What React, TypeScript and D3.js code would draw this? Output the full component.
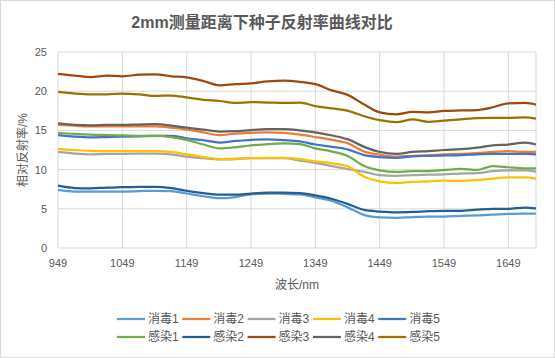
import React from 'react'
import * as d3 from 'd3'

// wavelength samples (nm)
const wavelengths = [949, 975, 1000, 1025, 1049, 1075, 1100, 1125, 1149, 1175, 1200, 1225, 1249, 1275, 1300, 1325, 1349, 1375, 1400, 1425, 1449, 1475, 1500, 1525, 1549, 1575, 1600, 1625, 1649, 1675, 1692]

const xTicks = [949, 1049, 1149, 1249, 1349, 1449, 1549, 1649]
const yTicks = [0, 5, 10, 15, 20, 25]

const disinfect1 = [7.4, 7.2, 7.2, 7.2, 7.2, 7.25, 7.3, 7.25, 6.95, 6.6, 6.35, 6.5, 6.85, 6.95, 6.9, 6.85, 6.45, 6.0, 5.15, 4.2, 3.9, 3.85, 3.95, 4.0, 4.0, 4.1, 4.15, 4.25, 4.35, 4.4, 4.4]
const disinfect2 = [15.7, 15.6, 15.5, 15.5, 15.5, 15.5, 15.5, 15.35, 15.1, 14.75, 14.4, 14.6, 14.7, 14.75, 14.7, 14.45, 14.15, 13.8, 13.35, 12.3, 11.9, 11.65, 11.75, 11.8, 11.95, 12.0, 12.1, 12.25, 12.35, 12.25, 12.25]
const disinfect3 = [12.25, 12.05, 11.95, 12.0, 12.0, 12.05, 12.05, 11.95, 11.65, 11.45, 11.3, 11.35, 11.45, 11.45, 11.45, 11.15, 10.85, 10.45, 10.05, 9.7, 9.3, 9.2, 9.3, 9.35, 9.4, 9.5, 9.55, 9.8, 9.9, 9.9, 9.75]
const disinfect4 = [12.65, 12.5, 12.4, 12.35, 12.35, 12.35, 12.35, 12.25, 11.95, 11.6, 11.35, 11.4, 11.45, 11.5, 11.5, 11.35, 11.05, 10.8, 10.4, 9.1, 8.5, 8.3, 8.45, 8.5, 8.6, 8.55, 8.65, 8.85, 9.0, 9.0, 8.85]
const disinfect5 = [14.4, 14.2, 14.1, 14.15, 14.2, 14.25, 14.3, 14.3, 14.0, 13.75, 13.45, 13.65, 13.8, 13.85, 13.75, 13.6, 13.2, 12.9, 12.55, 11.85, 11.6, 11.5, 11.7, 11.75, 11.8, 11.85, 11.95, 12.0, 12.0, 12.0, 11.95]
const infect1 = [14.7, 14.55, 14.45, 14.4, 14.35, 14.3, 14.3, 14.15, 13.8, 13.2, 12.7, 12.85, 13.1, 13.25, 13.35, 13.25, 12.7, 12.3, 11.7, 10.45, 9.9, 9.7, 9.8, 9.8, 9.95, 10.1, 9.95, 10.45, 10.3, 10.15, 10.15]
const infect2 = [7.95, 7.65, 7.6, 7.7, 7.75, 7.8, 7.8, 7.65, 7.3, 7.0, 6.8, 6.8, 6.95, 7.05, 7.05, 7.0, 6.7, 6.25, 5.6, 4.85, 4.65, 4.55, 4.6, 4.7, 4.75, 4.75, 4.9, 5.0, 5.0, 5.15, 5.05]
const infect3 = [22.2, 22.0, 21.8, 22.0, 21.9, 22.1, 22.15, 21.9, 21.75, 21.3, 20.75, 20.9, 21.0, 21.25, 21.35, 21.2, 20.9, 20.1, 19.5, 18.3, 17.3, 17.05, 17.35, 17.3, 17.5, 17.55, 17.6, 17.95, 18.45, 18.5, 18.3]
const infect4 = [15.9, 15.7, 15.65, 15.7, 15.7, 15.75, 15.8, 15.6, 15.35, 15.1, 14.85, 14.9, 15.05, 15.15, 15.15, 15.0, 14.75, 14.35, 13.85, 12.9, 12.25, 12.0, 12.25, 12.35, 12.5, 12.6, 12.8, 13.1, 13.2, 13.45, 13.2]
const infect5 = [19.9, 19.7, 19.6, 19.6, 19.7, 19.6, 19.4, 19.45, 19.2, 18.9, 18.75, 18.5, 18.6, 18.55, 18.5, 18.55, 18.1, 17.8, 17.5, 16.8, 16.3, 16.05, 16.4, 16.1, 16.25, 16.4, 16.55, 16.6, 16.6, 16.65, 16.5]

const seriesNames = ['消毒1', '消毒2', '消毒3', '消毒4', '消毒5', '感染1', '感染2', '感染3', '感染4', '感染5']
const seriesValues = [disinfect1, disinfect2, disinfect3, disinfect4, disinfect5, infect1, infect2, infect3, infect4, infect5]
const seriesColors = ['#5B9BD5', '#ED7D31', '#A5A5A5', '#FFC000', '#4472C4', '#70AD47', '#255E91', '#9E480E', '#636363', '#997300']

const W = 555
const H = 358
const margin = { top: 52, right: 19, bottom: 110, left: 58 }
const font = '"Liberation Sans", "Noto Sans CJK SC", sans-serif'
const textColor = '#595959'
const gridColor = '#D9D9D9'

export default function App() {
  const x = d3.scaleLinear().domain([949, 1692]).range([margin.left, W - margin.right])
  const y = d3.scaleLinear().domain([0, 25]).range([H - margin.bottom, margin.top])

  const line = d3
    .line<number>()
    .x((_, i) => x(wavelengths[i]))
    .y(d => y(d))
    .curve(d3.curveMonotoneX)

  const legendX = d3.scaleBand<number>().domain(d3.range(5)).range([117, 117 + 5 * 65.3])

  return (
    <svg width={W} height={H} style={{ position: 'absolute', left: 0, top: 0 }} fontFamily={font}>
      <rect x={0.5} y={0.5} width={W - 1} height={H - 1} fill="#fff" stroke={gridColor} />
      <text x={262} y={28} textAnchor="middle" fontSize={16} fontWeight="bold" fill={textColor}>
        2mm测量距离下种子反射率曲线对比
      </text>

      {/* grid */}
      {yTicks.map(t => (
        <g key={'y' + t}>
          <line x1={margin.left} x2={W - margin.right} y1={y(t)} y2={y(t)} stroke={gridColor} />
          <text x={47} y={y(t) + 4} textAnchor="end" fontSize={11} fill={textColor}>{t}</text>
        </g>
      ))}
      {xTicks.map(t => (
        <g key={'x' + t}>
          <line x1={x(t)} x2={x(t)} y1={y(0)} y2={y(25)} stroke={gridColor} />
          <text x={x(t)} y={267} textAnchor="middle" fontSize={11} fill={textColor}>{t}</text>
        </g>
      ))}
      <line x1={x(1692)} x2={x(1692)} y1={y(0)} y2={y(25)} stroke={gridColor} />

      <text x={(margin.left + W - margin.right) / 2} y={289} textAnchor="middle" fontSize={12} fill={textColor}>波长/nm</text>
      <text transform={`translate(27, ${(y(0) + y(25)) / 2}) rotate(-90)`} textAnchor="middle" fontSize={12} fill={textColor}>相对反射率/%</text>

      {seriesValues.map((vals, i) => (
        <path key={seriesNames[i]} d={line(vals) || ''} fill="none" stroke={seriesColors[i]} strokeWidth={2.25} strokeLinejoin="round" />
      ))}

      {/* legend */}
      {seriesNames.map((name, i) => {
        const lx = legendX(i % 5) as number
        const ly = i < 5 ? 319 : 337
        return (
          <g key={'lg' + name}>
            <line x1={lx} x2={lx + 28} y1={ly} y2={ly} stroke={seriesColors[i]} strokeWidth={2.25} />
            <text x={lx + 31} y={ly + 4} fontSize={12} fill={textColor}>{name}</text>
          </g>
        )
      })}
    </svg>
  )
}
